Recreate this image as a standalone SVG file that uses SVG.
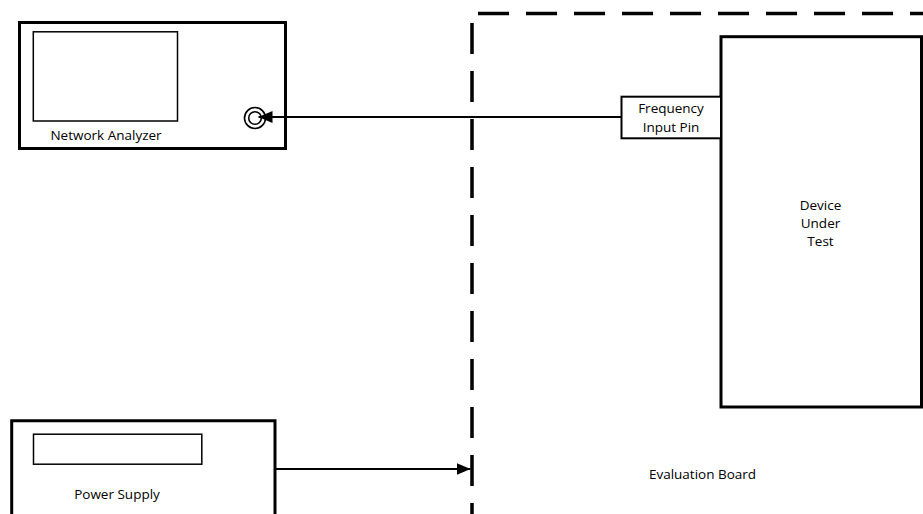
<svg xmlns="http://www.w3.org/2000/svg" width="923" height="514" viewBox="0 0 923 514">
  <defs>
    <style>
      .box { fill: #ffffff; stroke: #000000; stroke-width: 3; }
      .inner { fill: #ffffff; stroke: #000000; stroke-width: 1.5; }
      .pin { fill: #ffffff; stroke: #000000; stroke-width: 2; }
      .lbl { font-family: "Open Sans", "Liberation Sans", sans-serif; font-size: 13.5px; fill: #000000; text-anchor: middle; }
      .wire { fill: none; stroke: #000000; stroke-width: 2; }
      .board { fill: none; stroke: #000000; stroke-width: 3.5; stroke-dasharray: 31 17; }
    </style>
    <marker id="arrow" markerWidth="14" markerHeight="12" refX="14" refY="6" orient="auto" markerUnits="userSpaceOnUse">
      <path d="M0,0 L14,6 L0,12 Z" fill="#000000"/>
    </marker>
  </defs>
  <rect width="923" height="514" fill="#ffffff"/>

  <g id="evaluation-board">
    <line class="board" x1="478" y1="13.5" x2="923" y2="13.5"/>
    <line class="board" x1="472" y1="23" x2="472" y2="514"/>
    <text class="lbl" x="702.5" y="479">Evaluation Board</text>
  </g>

  <g id="network-analyzer">
    <rect class="box" x="19.5" y="22.5" width="266" height="126"/>
    <rect class="inner" x="33.3" y="31.8" width="144.2" height="89.2"/>
    <text class="lbl" x="106" y="140">Network Analyzer</text>
    <circle cx="255" cy="118" r="10.5" fill="#ffffff" stroke="#000000" stroke-width="1.6"/>
    <circle cx="255" cy="118" r="6.3" fill="#ffffff" stroke="#000000" stroke-width="1.6"/>
  </g>

  <g id="power-supply">
    <path class="box" d="M11.7,516 L11.7,420.7 L275,420.7 L275,516"/>
    <rect class="inner" x="33.5" y="434.2" width="168.3" height="30"/>
    <text class="lbl" x="117" y="498.5">Power Supply</text>
  </g>

  <g id="device-under-test">
    <rect class="box" x="721" y="36.7" width="200.5" height="370.3"/>
    <text class="lbl" x="820.5" y="210">Device</text>
    <text class="lbl" x="820.5" y="228">Under</text>
    <text class="lbl" x="820.5" y="246">Test</text>
  </g>

  <g id="frequency-input-pin">
    <rect class="pin" x="621.5" y="96.7" width="99.5" height="41.6"/>
    <text class="lbl" x="671" y="112.7">Frequency</text>
    <text class="lbl" x="671" y="131.5">Input Pin</text>
  </g>

  <g id="connectors">
    <line class="wire" x1="621.5" y1="117" x2="258.5" y2="117" marker-end="url(#arrow)"/>
    <line class="wire" x1="276" y1="469" x2="470.5" y2="469" marker-end="url(#arrow)"/>
  </g>
</svg>
